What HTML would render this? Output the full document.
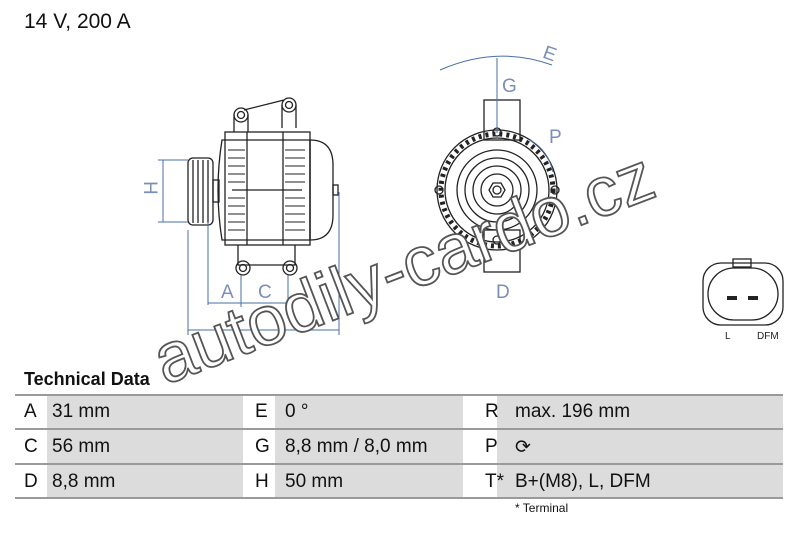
<!DOCTYPE html>
<html><head><meta charset="utf-8"><style>
body{margin:0;width:800px;height:533px;background:#fff;font-family:"Liberation Sans",sans-serif;overflow:hidden;position:relative}
.t{position:absolute;font-size:19px;color:#111}
.g{position:absolute;background:#dcdcdc}
.l{position:absolute;left:15px;width:768px;height:2px;background:#9a9a9a}
</style></head><body>
<div class="t" style="left:24px;top:10px;font-size:21px">14 V, 200 A</div>
<svg width="800" height="533" style="position:absolute;left:0;top:0">
<g fill="none" stroke="#222" stroke-width="1.3">
<rect x="188" y="158" width="25" height="67" rx="5"/>
<line x1="193" y1="160" x2="193" y2="223"/><line x1="198" y1="160" x2="198" y2="223"/><line x1="203" y1="160" x2="203" y2="223"/><line x1="208" y1="160" x2="208" y2="223"/>
<rect x="213" y="180" width="6" height="22"/>
<path d="M222 140 Q214 190 222 240 L310 240 L310 140 Z"/>
<rect x="225" y="132" width="85" height="113"/>
<line x1="247" y1="132" x2="247" y2="245"/><line x1="283" y1="132" x2="283" y2="245"/>
<g stroke-width="1">
<path d="M228 150h17M228 158h17M228 166h17M228 174h17M228 182h17M228 198h17M228 206h17M228 214h17M228 222h17M228 230h17"/>
<path d="M285 150h20M285 158h20M285 166h20M285 174h20M285 182h20M285 198h20M285 206h20M285 214h20M285 222h20M285 230h20"/>
</g>
<line x1="232" y1="190" x2="302" y2="190"/>
<path d="M310 140 Q333 140 333 165 L333 215 Q333 240 310 240 Z"/>
<rect x="333" y="185" width="5" height="10"/>
<path d="M234 132 L234 115 M248 132 L248 115 M282 128 L282 105 M296 128 L296 105 M244 110 L284 100"/>
<circle cx="241" cy="115" r="7"/><circle cx="241" cy="115" r="3.5"/>
<circle cx="289" cy="105" r="7"/><circle cx="289" cy="105" r="3.5"/>
<path d="M238 245 L238 265 L295 265 L295 245"/>
<circle cx="243" cy="268" r="7"/><circle cx="243" cy="268" r="3.5"/>
<circle cx="290" cy="268" r="7"/><circle cx="290" cy="268" r="3.5"/>
<rect x="484" y="100" width="36" height="40"/><rect x="484" y="230" width="36" height="42"/>
<circle cx="497" cy="190" r="60"/><circle cx="497" cy="190" r="52"/>
<circle cx="497" cy="190" r="40"/><circle cx="497" cy="190" r="32"/><circle cx="497" cy="190" r="24"/><circle cx="497" cy="190" r="16"/>
<polygon points="489,190 493,183 501,183 505,190 501,197 493,197"/>
<circle cx="497" cy="190" r="4"/>
<circle cx="439" cy="190" r="4"/><circle cx="555" cy="190" r="4"/>
<circle cx="497" cy="132" r="4"/><circle cx="497" cy="240" r="4"/>
<circle cx="497" cy="190" r="56" stroke-dasharray="3 4" stroke-width="5"/>
<rect x="703" y="263" width="80" height="62" rx="18"/>
<rect x="708" y="268" width="70" height="52" rx="26"/>
<rect x="733" y="259" width="18" height="8"/>
</g>
<g fill="#222"><rect x="727" y="296" width="10" height="4"/><rect x="748" y="296" width="10" height="4"/></g>
<text x="725" y="339" font-size="10" fill="#222">L</text><text x="757" y="339" font-size="10" fill="#222">DFM</text>
<g stroke="#4a6fa5" stroke-width="1" fill="none">
<path d="M158 160h30M158 222h30M163 160v62"/>
<path d="M188 230v105M208 222v83M241 275v32M288 275v32M339 192v143"/>
<path d="M208 303h80M188 330h151"/>
<path d="M440 70 Q497 45 552 65"/>
<path d="M497 58v75"/>
<path d="M530 140 Q548 150 553 172"/>
</g>
<g fill="#7a8fb8" font-size="19" font-family="Liberation Sans">
<text x="221" y="298">A</text><text x="258" y="298">C</text>
<text x="140" y="197" transform="rotate(90 150 191)">H</text>
<text x="502" y="92">G</text><text x="549" y="143">P</text><text x="496" y="298">D</text>
<text x="543" y="60" transform="rotate(20 550 55)">E</text>
</g>
<text x="165" y="385" font-size="70" fill="#fff" stroke="#555" stroke-width="1.8" transform="rotate(-21 165 385)" font-family="Liberation Sans">autodily-cardo.cz</text>
</svg>
<div class="t" style="left:24px;top:369px;font-weight:bold;font-size:18px">Technical Data</div>
<div class="l" style="top:394px"></div><div class="l" style="top:428px"></div><div class="l" style="top:463px"></div><div class="l" style="top:497px"></div>
<div class="g" style="left:47px;top:396px;width:196px;height:32px"></div>
<div class="g" style="left:47px;top:430px;width:196px;height:33px"></div>
<div class="g" style="left:47px;top:465px;width:196px;height:32px"></div>
<div class="g" style="left:275px;top:396px;width:188px;height:32px"></div>
<div class="g" style="left:275px;top:430px;width:188px;height:33px"></div>
<div class="g" style="left:275px;top:465px;width:188px;height:32px"></div>
<div class="g" style="left:497px;top:396px;width:286px;height:32px"></div>
<div class="g" style="left:497px;top:430px;width:286px;height:33px"></div>
<div class="g" style="left:497px;top:465px;width:286px;height:32px"></div>
<div class="t" style="left:24px;top:401px">A</div><div class="t" style="left:52px;top:401px">31 mm</div>
<div class="t" style="left:24px;top:436px">C</div><div class="t" style="left:52px;top:436px">56 mm</div>
<div class="t" style="left:24px;top:471px">D</div><div class="t" style="left:52px;top:471px">8,8 mm</div>
<div class="t" style="left:255px;top:401px">E</div><div class="t" style="left:285px;top:401px">0 °</div>
<div class="t" style="left:255px;top:436px">G</div><div class="t" style="left:285px;top:436px">8,8 mm / 8,0 mm</div>
<div class="t" style="left:255px;top:471px">H</div><div class="t" style="left:285px;top:471px">50 mm</div>
<div class="t" style="left:485px;top:401px">R</div><div class="t" style="left:515px;top:401px">max. 196 mm</div>
<div class="t" style="left:485px;top:436px">P</div><div class="t" style="left:515px;top:436px">⟳</div>
<div class="t" style="left:485px;top:471px">T*</div><div class="t" style="left:515px;top:471px">B+(M8), L, DFM</div>
<div class="t" style="left:515px;top:501px;font-size:12px">* Terminal</div>
</body></html>
